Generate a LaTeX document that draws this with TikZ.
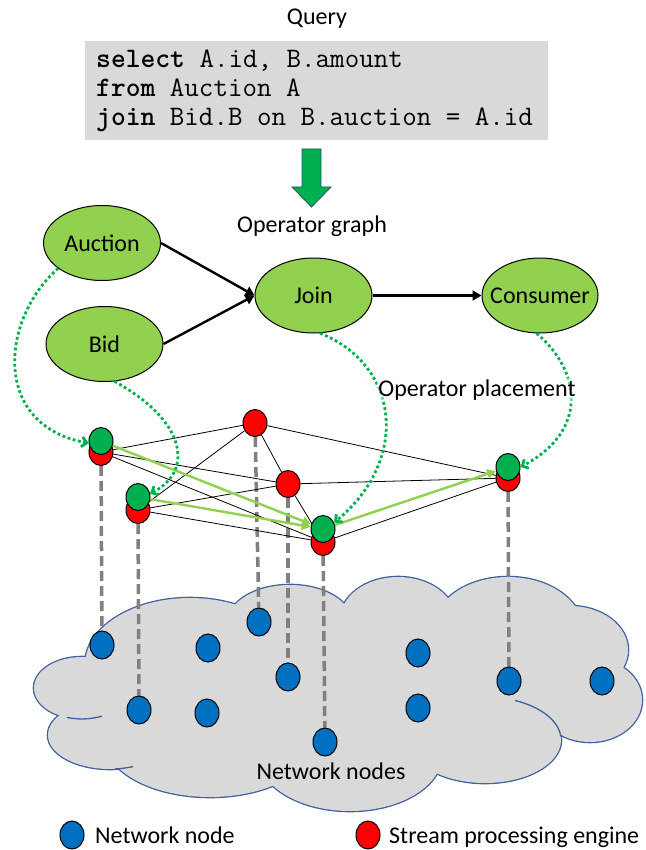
\documentclass[tikz,border=0pt]{standalone}
\usepackage{fontspec}
\setmainfont{Carlito}
\usetikzlibrary{arrows.meta,shapes.geometric}

\definecolor{opgreen}{HTML}{92D050}
\definecolor{dotgreen}{HTML}{00B050}
\definecolor{engred}{HTML}{FF0000}
\definecolor{netblue}{HTML}{0070C0}
\definecolor{panelgray}{HTML}{D9D9D9}
\definecolor{cloudline}{HTML}{41609C}
\definecolor{linkgray}{HTML}{808080}
\definecolor{arrowedge}{HTML}{2F4A6A}

\pgfdeclarelayer{cloudlayer}
\pgfdeclarelayer{wirelayer}
\pgfsetlayers{cloudlayer,wirelayer,main}

\tikzset{
  opnode/.style={ellipse, draw=black, line width=1pt, fill=opgreen, inner sep=0pt,
                 minimum width=117pt, minimum height=75pt},
  spe/.style={ellipse, draw=black, line width=1pt, fill=engred, inner sep=0pt,
              minimum width=24pt, minimum height=27pt},
  spegreen/.style={spe, fill=dotgreen},
  netnode/.style={ellipse, draw=black, line width=1pt, fill=netblue, inner sep=0pt,
                  minimum width=24pt, minimum height=28pt},
  opflow/.style={line width=2.4pt, -{Triangle[length=9pt,width=10pt]}},
  meshedge/.style={line width=0.8pt},
  routeedge/.style={draw=opgreen, line width=2.4pt, -{Triangle[length=9pt,width=9pt]}},
  placearrow/.style={draw=dotgreen, line width=2.8pt, dash pattern=on 2.8pt off 2.6pt,
                     -{Straight Barb[length=5pt,width=10pt]}},
  hostdash/.style={draw=linkgray, line width=3.5pt, dash pattern=on 10pt off 5pt},
  codeline/.style={anchor=base west, inner sep=0pt,
                   font=\ttfamily\fontsize{28.2}{29}\selectfont}
}

% cloud lobes: centre x / centre y / x radius / y radius
\def\cloudlobes{190/665/105/67, 82/688/48/31, 110/735/62/34, 210/740/105/57,
  350/755/92/56, 485/740/76/43, 590/700/52/42, 570/650/58/44,
  508/630/75/53, 398/620/58/43, 290/622/62/37}

\begin{document}
\begin{tikzpicture}[x=1pt, y=-1pt, font=\fontsize{24}{29}\selectfont]
\useasboundingbox (0,0) rectangle (645,850);

% ---------- query ----------
\node[anchor=base] (title) at (317,25) {Query};
\node[fill=panelgray, minimum width=463pt, minimum height=99pt, inner sep=0pt,
      anchor=north west] (panel) at (85,41) {};
\node[codeline] (q1) at (96,68)  {\textbf{select} A.id, B.amount};
\node[codeline] (q2) at (96,97)  {\textbf{from} Auction A};
\node[codeline] (q3) at (96,126) {\textbf{join} Bid.B on B.auction = A.id};

% block arrow down to the operator graph
\draw[fill=dotgreen, draw=arrowedge, line width=0.8pt]
  (302,149) -- (321,149) -- (321,187) -- (331,187) -- (311.5,207)
  -- (292,187) -- (302,187) -- cycle;
\node[anchor=base] (graphlabel) at (312,233) {Operator graph};

% ---------- operator graph ----------
% labels are zero-width boxes so the ellipses keep their set size
\node[opnode] (auction)  at (102,243)     {\makebox[0pt]{Auction}};
\node[opnode] (bid)      at (104.5,344)   {\makebox[0pt]{Bid}};
\node[opnode] (join)     at (313.5,295.5) {\makebox[0pt]{Join}};
\node[opnode, minimum width=116pt] (consumer) at (540,295.5) {\makebox[0pt]{Consumer}};

\draw[opflow] (auction.east) -- (join.west);
\draw[opflow] (bid.east) -- (join.west);
\draw[opflow] (join.east) -- (consumer.west);

% ---------- cloud of network nodes ----------
\begin{pgfonlayer}{cloudlayer}
  \foreach \cx/\cy/\rx/\ry in \cloudlobes
    \draw[cloudline, line width=2.6pt] (\cx,\cy) ellipse[x radius=\rx, y radius=\ry];
  \foreach \cx/\cy/\rx/\ry in \cloudlobes
    \fill[panelgray] (\cx,\cy) ellipse[x radius=\rx, y radius=\ry];
  \fill[panelgray] (370,690) ellipse[x radius=200, y radius=60];
  % inner creases of the cloud
  \draw[cloudline, line width=1.3pt] (67,717.4)
    arc[start angle=108.2, end angle=65.4, x radius=48, y radius=31];
  \draw[cloudline, line width=1.3pt] (115,768.9)
    arc[start angle=85.4, end angle=68.2, x radius=62, y radius=34];
  \draw[cloudline, line width=1.3pt] (515,700.5)
    arc[start angle=-66.8, end angle=-5, x radius=76, y radius=43];
\end{pgfonlayer}

\node[anchor=base] (cloudlabel) at (331,779) {Network nodes};

% network nodes
\node[netnode] (n1)  at (102,645) {};
\node[netnode] (n2)  at (208,648) {};
\node[netnode] (n3)  at (259,622) {};
\node[netnode] (n4)  at (288,677) {};
\node[netnode] (n5)  at (139,710) {};
\node[netnode] (n6)  at (207,713) {};
\node[netnode] (n7)  at (325,742) {};
\node[netnode] (n8)  at (418,653) {};
\node[netnode] (n9)  at (418,708) {};
\node[netnode] (n10) at (509,681) {};
\node[netnode] (n11) at (602,681) {};

% ---------- stream processing engines ----------
\node[spe] (rA) at (101,452) {};
\node[spe] (rB) at (138,510) {};
\node[spe] (rT) at (255,423) {};
\node[spe] (rM) at (288,484) {};
\node[spe] (rC) at (323,542) {};
\node[spe] (rD) at (508,478) {};

\node[spegreen] (gA) at (101,441) {};
\node[spegreen] (gB) at (138,497) {};
\node[spegreen] (gC) at (323,529) {};
\node[spegreen] (gD) at (508,467) {};

\begin{pgfonlayer}{wirelayer}
  % engines hosted on network nodes
  \draw[hostdash] (rA) -- (n1);
  \draw[hostdash] (rB) -- (n5);
  \draw[hostdash] (rT) -- (n3);
  \draw[hostdash] (rM) -- (n4);
  \draw[hostdash] (rC) -- (n7);
  \draw[hostdash] (rD) -- (n10);
  % overlay links between engines
  \draw[meshedge] (rA) -- (rT);
  \draw[meshedge] (rA) -- (rM);
  \draw[meshedge] (rA) -- (rC);
  \draw[meshedge] (rB) -- (rT);
  \draw[meshedge] (rB) -- (rM);
  \draw[meshedge] (rB) -- (rC);
  \draw[meshedge] (rT) -- (rM);
  \draw[meshedge] (rM) -- (rC);
  \draw[meshedge] (rT) -- (rD);
  \draw[meshedge] (rM) -- (rD);
  \draw[meshedge] (rC) -- (rD);
\end{pgfonlayer}

% data flow between placed operators
\draw[routeedge] (gA) -- (gC);
\draw[routeedge] (gB) -- (gC);
\draw[routeedge] (gC) -- (gD);

% placement of operators onto engines
\draw[placearrow] (auction.210) .. controls (0,320) and (-8,425) .. (gA.190);
\draw[placearrow] (bid.285) .. controls (185,420) and (195,470) .. (gB.15);
\draw[placearrow] (join.280) .. controls (400,365) and (410,460) .. (gC.30);
\draw[placearrow] (consumer.265) .. controls (580,370) and (590,430) .. (gD.east);

\node[fill=white, fill opacity=0.45, text opacity=1, inner sep=1pt, anchor=base]
  (placelabel) at (477,396) {Operator placement};

% ---------- legend ----------
\node[netnode] (keynet) at (72,835) {};
\node[anchor=base west, inner sep=0pt] (keynettext) at (95,843) {Network node};
\node[spe, minimum height=28pt] (keyspe) at (368,835) {};
\node[anchor=base west, inner sep=0pt] (keyspetext) at (389,843) {Stream processing engine};
\end{tikzpicture}
\end{document}
